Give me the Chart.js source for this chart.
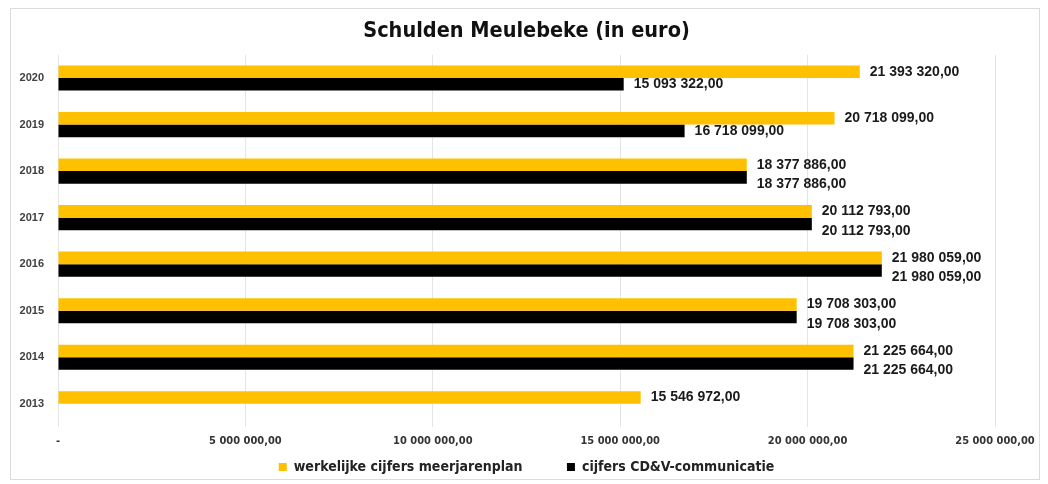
<!DOCTYPE html>
<html>
<head>
<meta charset="utf-8">
<script src="https://cdn.jsdelivr.net/npm/chart.js@4/dist/chart.umd.min.js"></script>
<style>
  html, body { margin: 0; padding: 0; background: #fff; }
  #wrap { position: absolute; left: 10px; top: 8px; width: 1028px; height: 470px; border: 1px solid #dcdcdc; }
</style>
</head>
<body>
<div id="wrap"><canvas id="chart" width="1028" height="470"></canvas></div>
<script>
const years = ['2020', '2019', '2018', '2017', '2016', '2015', '2014', '2013'];
const werkelijk = [21393320, 20718099, 18377886, 20112793, 21980059, 19708303, 21225664, 15546972];
const communicatie = [15093322, 16718099, 18377886, 20112793, 21980059, 19708303, 21225664, null];
const seriesNames = ['werkelijke cijfers meerjarenplan', 'cijfers CD&V-communicatie'];
const xTicks = [0, 5000000, 10000000, 15000000, 20000000, 25000000];

const narrow = '"DejaVu Sans Condensed", "Liberation Sans Narrow", sans-serif';
const plain = '"Liberation Sans", Arial, sans-serif';

function euro(v) {
  if (v === 0) return '-';
  return Math.round(v).toString().replace(/\B(?=(\d{3})+(?!\d))/g, ' ') + ',00';
}

// value labels right of every bar
const barLabels = {
  id: 'barLabels',
  afterDatasetsDraw(chart) {
    const ctx = chart.ctx;
    ctx.save();
    ctx.font = 'bold 14px ' + plain;
    ctx.fillStyle = '#1a1a1a';
    ctx.textAlign = 'left';
    ctx.textBaseline = 'middle';
    chart.data.datasets.forEach((ds, i) => {
      chart.getDatasetMeta(i).data.forEach((bar, j) => {
        const v = ds.data[j];
        if (v == null) return;
        let dy = 0;
        if (i === 1 && chart.data.datasets[0].data[j] === v) dy = 7;
        ctx.fillText(euro(v), bar.x + 10, bar.y + dy);
      });
    });
    ctx.restore();
  }
};

new Chart(document.getElementById('chart').getContext('2d'), {
  type: 'bar',
  data: {
    labels: years,
    datasets: [
      { label: seriesNames[0], data: werkelijk, backgroundColor: '#FFC000' },
      { label: seriesNames[1], data: communicatie, backgroundColor: '#000000' }
    ]
  },
  options: {
    indexAxis: 'y',
    responsive: false,
    animation: false,
    categoryPercentage: 0.54,
    barPercentage: 1,
    layout: { padding: { left: 0, right: 44, top: 0, bottom: -5 } },
    scales: {
      x: {
        min: 0,
        max: 25000000,
        afterBuildTicks: s => { s.ticks = xTicks.map(v => ({ value: v })); },
        afterFit: s => { s.height = 28; s.paddingRight = 0; s.paddingLeft = 0; },
        grid: { color: '#e4e4e4', drawTicks: false },
        border: { display: false },
        ticks: {
          padding: 8,
          font: { family: narrow, size: 11, weight: 'bold' },
          color: '#333',
          callback: v => euro(v)
        }
      },
      y: {
        afterFit: s => { s.width = 47; },
        grid: { display: false },
        border: { display: false },
        ticks: {
          padding: 6,
          font: { family: plain, size: 11, weight: 'bold' },
          color: '#404040'
        }
      }
    },
    plugins: {
      title: {
        display: true,
        fullSize: false,
        text: 'Schulden Meulebeke (in euro)',
        font: { family: narrow, size: 21.5, weight: 'bold' },
        color: '#111',
        padding: { top: 10, bottom: 10 }
      },
      legend: {
        position: 'bottom',
        fullSize: false,
        labels: {
          boxWidth: 8,
          boxHeight: 8,
          padding: 5,
          font: { family: narrow, size: 14, weight: 'bold' },
          color: '#222',
          // extra gap after the first item
          generateLabels: chart => Chart.defaults.plugins.legend.labels.generateLabels(chart)
            .map((item, i) => Object.assign(item, { text: i === 0 ? item.text + '         ' : item.text }))
        }
      },
      tooltip: { enabled: false }
    }
  },
  plugins: [barLabels]
});
</script>
</body>
</html>
